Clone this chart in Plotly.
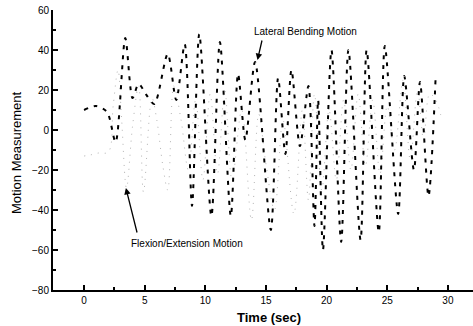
import plotly.graph_objects as go

# Lateral bending motion (dashed black)
lat_t = [0.0, 1.0, 1.9, 2.6, 3.4, 4.0, 4.5, 5.2, 5.8, 6.9, 7.6, 8.3, 8.9, 9.5, 10.5, 11.2,
         12.1, 12.7, 13.3, 14.1, 15.4, 16.0, 16.6, 17.1, 17.8, 18.5, 19.0, 19.3, 19.7,
         20.4, 21.2, 21.8, 22.8, 23.3, 24.3, 24.8, 25.9, 26.4, 27.2, 27.7, 28.4, 29.0]
lat_v = [10, 12, 9, -6, 46, 16, 23, 17, 13, 38, 15, 43, -38, 48, -43, 44,
         -43, 28, -5, 34, -50, 26, -12, 30, -8, 22, -48, 15, -60,
         40, -56, 40, -55, 40, -51, 42, -42, 27, -20, 24, -33, 28]

# Flexion / extension motion (dotted grey)
flex_t = [0.0, 0.5, 1.2, 2.0, 2.4, 2.8, 3.1, 3.5, 4.0, 4.5, 4.9, 5.6, 6.0, 6.5, 6.9, 7.4,
          8.0, 8.6, 9.2, 9.8, 10.4, 11.0, 11.6, 12.2, 13.0, 13.8, 14.4, 15.0, 15.7, 16.4,
          17.3, 18.0, 18.5, 19.0, 19.6, 20.2, 20.8, 21.4, 22.0, 22.6, 23.2, 23.8, 24.4,
          25.0, 25.6, 26.3, 26.9, 27.5, 28.0, 28.5, 29.0, 29.5]
flex_v = [-13, -12.5, -11.5, -11, 12, 30, 5, -29, 2, 22, -31, 16, 5, -18, -30, 22,
          5, -20, 15, -25, 18, -22, 20, -25, 10, -45, 8, -17, -40, 5,
          -42, 10, -35, 18, -30, 10, -25, 15, -20, 18, -18, 15, -22,
          12, -10, 25, -15, 20, -5, 18, 15, 5]

x_ticks = [0, 5, 10, 15, 20, 25, 30]
y_ticks = [-80, -60, -40, -20, 0, 20, 40, 60]

fig = go.Figure()
fig.add_trace(go.Scatter(x=flex_t, y=flex_v, mode="lines",
                         line=dict(color="#b4b4b4", width=1, dash="1px,6px", shape="spline"),
                         showlegend=False, hoverinfo="skip"))
fig.add_trace(go.Scatter(x=lat_t, y=lat_v, mode="lines",
                         line=dict(color="black", width=2, dash="4px,6px", shape="spline", smoothing=0.8),
                         showlegend=False, hoverinfo="skip"))

narrow = "Liberation Sans Narrow, Arial Narrow, Liberation Sans, Arial"

fig.add_annotation(x=18.3, y=49.5, xref="x", yref="y", text="Lateral Bending Motion",
                   showarrow=False, font=dict(family=narrow, size=10, color="black"))
fig.add_annotation(x=14.3, y=35, ax=14.7, ay=45.5, xref="x", yref="y", axref="x", ayref="y",
                   text="", showarrow=True, arrowhead=2, arrowsize=1, arrowwidth=1.3,
                   arrowcolor="black")
fig.add_annotation(x=8.45, y=-56.5, xref="x", yref="y", text="Flexion/Extension Motion",
                   showarrow=False, font=dict(family=narrow, size=10, color="black"))
fig.add_annotation(x=3.45, y=-29, ax=4.4, ay=-52, xref="x", yref="y", axref="x", ayref="y",
                   text="", showarrow=True, arrowhead=2, arrowsize=1, arrowwidth=1.3,
                   arrowcolor="black")

# axis titles as annotations for exact placement
fig.add_annotation(x=(269 - 53) / 420, y=-(317 - 290) / 280, xref="paper", yref="paper",
                   text="<b>Time (sec)</b>", showarrow=False, xanchor="center", yanchor="middle",
                   font=dict(size=13, color="black"))
fig.add_annotation(x=(16 - 53) / 420, y=(290 - 153) / 280, xref="paper", yref="paper",
                   text="Motion Measurement", textangle=-90, showarrow=False,
                   xanchor="center", yanchor="middle", font=dict(size=13, color="black"))

fig.update_layout(
    width=473, height=326,
    margin=dict(l=53, r=0, t=10, b=36, autoexpand=False),
    paper_bgcolor="white", plot_bgcolor="white",
    font=dict(family="Liberation Sans, Arial", color="black"),
    xaxis=dict(range=[-2.56, 32.07], tickvals=x_ticks, ticks="inside", ticklen=5, tickwidth=1.5,
               tickcolor="black", showline=True, linecolor="black", linewidth=2,
               showgrid=False, zeroline=False, tickfont=dict(size=10), automargin=False,
               minor=dict(ticks="inside", ticklen=3, dtick=2.5, tick0=0, tickcolor="black", showgrid=False)),
    yaxis=dict(range=[-80, 60], tickvals=y_ticks, ticks="inside", ticklen=5, tickwidth=1.5,
               tickcolor="black", showline=True, linecolor="black", linewidth=2,
               showgrid=False, zeroline=False, tickfont=dict(size=10), automargin=False,
               minor=dict(ticks="inside", ticklen=3, dtick=10, tick0=0, tickcolor="black", showgrid=False)),
)

fig.write_html("out.html", config={"displayModeBar": False},
               post_script="document.body.style.margin='0';")
